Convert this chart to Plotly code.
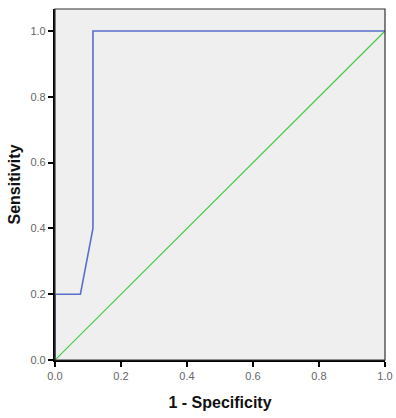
import plotly.graph_objects as go

# ROC curve coordinates
fpr = [0.0, 0.0, 0.077, 0.115, 0.115, 1.0]
tpr = [0.0, 0.2, 0.2, 0.4, 1.0, 1.0]

# reference diagonal
ref_x = [0.0, 1.0]
ref_y = [0.0, 1.0]

tick_vals = [0.0, 0.2, 0.4, 0.6, 0.8, 1.0]
tick_text = ["0.0", "0.2", "0.4", "0.6", "0.8", "1.0"]

fig = go.Figure()
fig.add_trace(go.Scatter(x=ref_x, y=ref_y, mode="lines",
                         line=dict(color="#4cc94c", width=1.2),
                         showlegend=False, hoverinfo="skip"))
fig.add_trace(go.Scatter(x=fpr, y=tpr, mode="lines",
                         line=dict(color="#5a6fcc", width=1.6),
                         showlegend=False))

# thin frame around the plotting area
fig.add_shape(type="rect", xref="paper", yref="paper", x0=0, y0=0, x1=1, y1=1,
              line=dict(color="#333333", width=1.2), layer="above")

axis_font = dict(family="Liberation Sans, Arial, sans-serif", size=11, color="#666666")
title_font = dict(family="Liberation Sans, Arial, sans-serif", size=16, color="#111111")

fig.update_layout(
    width=396, height=418,
    margin=dict(l=55, r=11, t=9, b=58, autoexpand=False),
    paper_bgcolor="white",
    plot_bgcolor="#efefef",
    xaxis=dict(range=[0, 1], tickvals=tick_vals, ticktext=tick_text,
               showgrid=False, zeroline=False, automargin=False,
               showline=True, linecolor="black", linewidth=2.2,
               ticks="outside", ticklen=5, tickwidth=1.5, tickcolor="black",
               tickfont=axis_font,
               title=dict(text="<b>1 - Specificity</b>", font=title_font, standoff=16)),
    yaxis=dict(range=[0, 1.067], tickvals=tick_vals, ticktext=tick_text,
               showgrid=False, zeroline=False, automargin=False,
               showline=True, linecolor="black", linewidth=2.2,
               ticks="outside", ticklen=5, tickwidth=1.5, tickcolor="black",
               tickfont=axis_font,
               title=dict(text="<b>Sensitivity</b>", font=title_font, standoff=6)),
)

fig.write_html("out.html")
